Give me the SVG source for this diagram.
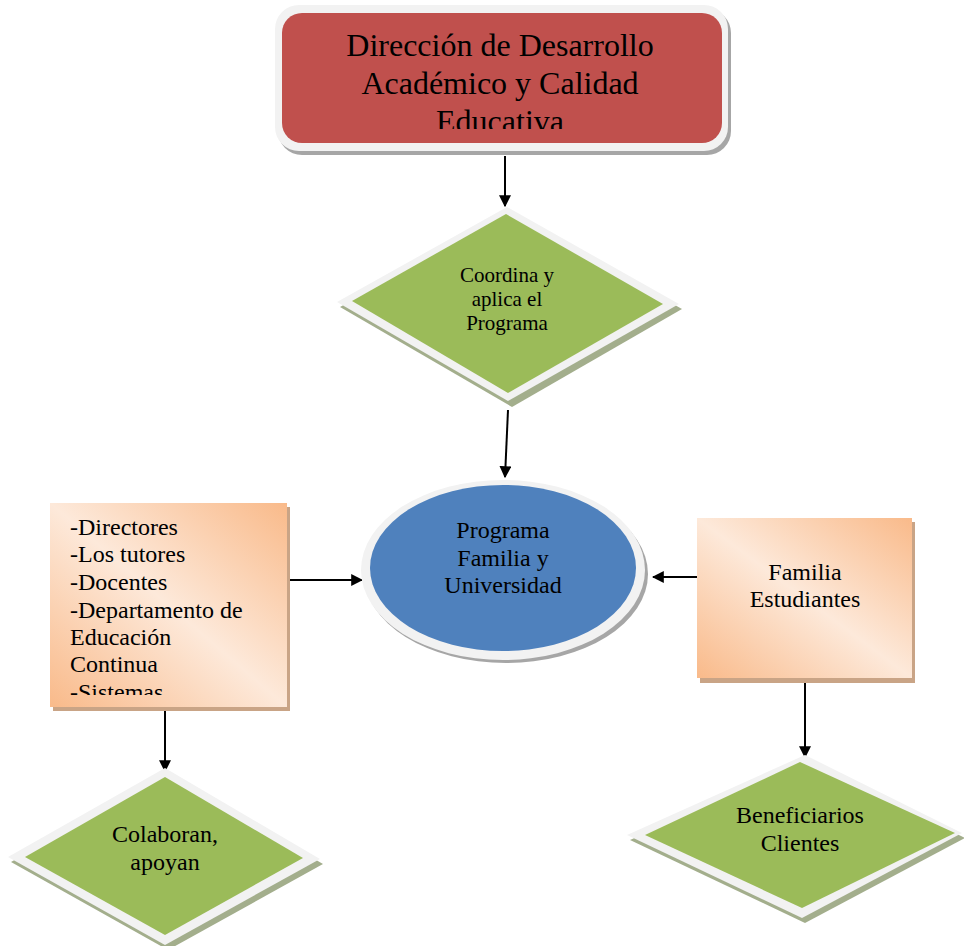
<svg xmlns="http://www.w3.org/2000/svg" width="964" height="946" viewBox="0 0 964 946">
<defs>
<style>
.t{font-family:"Liberation Serif","Times New Roman",serif;fill:#000;text-anchor:middle}
.tl{font-family:"Liberation Serif","Times New Roman",serif;fill:#000}
.rim{fill:#F2F2F2}
.gsh{fill:#A3AE8C}
.grn{fill:#9BBB59}
.ln{stroke:#000;stroke-width:2;fill:none}
</style>
<marker id="ah" viewBox="0 0 10 10" refX="9" refY="5" markerWidth="6" markerHeight="6" orient="auto" markerUnits="strokeWidth">
<path d="M0,0 L10,5 L0,10 Z" fill="#000"/>
</marker>
<linearGradient id="og" x1="1" y1="0" x2="0" y2="1">
<stop offset="0" stop-color="#F9BA8A"/>
<stop offset="0.5" stop-color="#FDE9DA"/>
<stop offset="1" stop-color="#F9BA8A"/>
</linearGradient>
<clipPath id="c1"><rect x="282" y="13" width="440" height="116"/></clipPath>
<clipPath id="c2"><rect x="50" y="503" width="237" height="192"/></clipPath>
</defs>
<rect width="964" height="946" fill="#fff"/>

<g id="connectors">
<line class="ln" x1="505" y1="156" x2="505" y2="206" marker-end="url(#ah)"/>
<line class="ln" x1="508" y1="410" x2="505" y2="477" marker-end="url(#ah)"/>
<line class="ln" x1="287" y1="580" x2="362" y2="580" marker-end="url(#ah)"/>
<line class="ln" x1="697" y1="577" x2="653" y2="577" marker-end="url(#ah)"/>
<line class="ln" x1="165" y1="707" x2="165" y2="771" marker-end="url(#ah)"/>
<line class="ln" x1="805" y1="679" x2="805" y2="757" marker-end="url(#ah)"/>
</g>

<g id="direccion">
<rect x="278" y="9" width="453" height="146" rx="24" fill="#A6A6A6"/>
<rect x="275" y="5" width="453" height="146" rx="24" class="rim"/>
<rect x="282" y="13" width="440" height="130" rx="20" fill="#C0504D"/>
<g clip-path="url(#c1)">
<text class="t" x="500" y="56" font-size="32">Dirección de Desarrollo</text>
<text class="t" x="500" y="94" font-size="32">Académico y Calidad</text>
<text class="t" x="500" y="132" font-size="32">Educativa</text>
</g>
</g>

<g id="coordina">
<path class="gsh" d="M510,212 L682,309 L512,407 L340,307 Z"/>
<path class="rim" d="M507,207 L679,304 L508,401 L337,302 Z"/>
<path class="grn" d="M506,214 L663,304 L508,393 L352,301 Z"/>
<text class="t" x="507" y="282" font-size="21">Coordina y</text>
<text class="t" x="507" y="306" font-size="21">aplica el</text>
<text class="t" x="507" y="330" font-size="21">Programa</text>
</g>

<g id="programa">
<ellipse cx="506" cy="574" rx="142" ry="89" fill="#A6A6A6"/>
<ellipse cx="503" cy="570" rx="142" ry="90" class="rim"/>
<ellipse cx="503" cy="568" rx="133" ry="83" fill="#4F81BD"/>
<text class="t" x="503" y="538" font-size="24">Programa</text>
<text class="t" x="503" y="566" font-size="24">Familia y</text>
<text class="t" x="503" y="593" font-size="24">Universidad</text>
</g>

<g id="colaboradores">
<rect x="53" y="507" width="237" height="204" fill="#C9A486"/>
<rect x="50" y="503" width="237" height="204" fill="url(#og)"/>
<g clip-path="url(#c2)">
<text class="tl" x="70" y="535" font-size="24">-Directores</text>
<text class="tl" x="70" y="562" font-size="24">-Los tutores</text>
<text class="tl" x="70" y="590" font-size="24">-Docentes</text>
<text class="tl" x="70" y="618" font-size="24">-Departamento de</text>
<text class="tl" x="70" y="645" font-size="24">Educación</text>
<text class="tl" x="70" y="672" font-size="24">Continua</text>
<text class="tl" x="70" y="700" font-size="24">-Sistemas</text>
</g>
</g>

<g id="familia">
<rect x="700" y="522" width="215" height="161" fill="#C9A486"/>
<rect x="697" y="518" width="215" height="160" fill="url(#og)"/>
<text class="t" x="805" y="580" font-size="24">Familia</text>
<text class="t" x="805" y="607" font-size="24">Estudiantes</text>
</g>

<g id="colaboran">
<path class="gsh" d="M168,773 L323,864 L168,950 L11,862 Z"/>
<path class="rim" d="M165,768 L320,859 L165,945 L8,857 Z"/>
<path class="grn" d="M165,777 L303,858 L165,935 L25,857 Z"/>
<text class="t" x="165" y="842" font-size="24">Colaboran,</text>
<text class="t" x="165" y="870" font-size="24">apoyan</text>
</g>

<g id="beneficiarios">
<path class="gsh" d="M808,760 L965,838 L805,923 L630,840 Z"/>
<path class="rim" d="M805,755 L962,833 L802,918 L627,835 Z"/>
<path class="grn" d="M800,762 L955,833 L802,908 L645,835 Z"/>
<text class="t" x="800" y="823" font-size="24">Beneficiarios</text>
<text class="t" x="800" y="851" font-size="24">Clientes</text>
</g>
</svg>
